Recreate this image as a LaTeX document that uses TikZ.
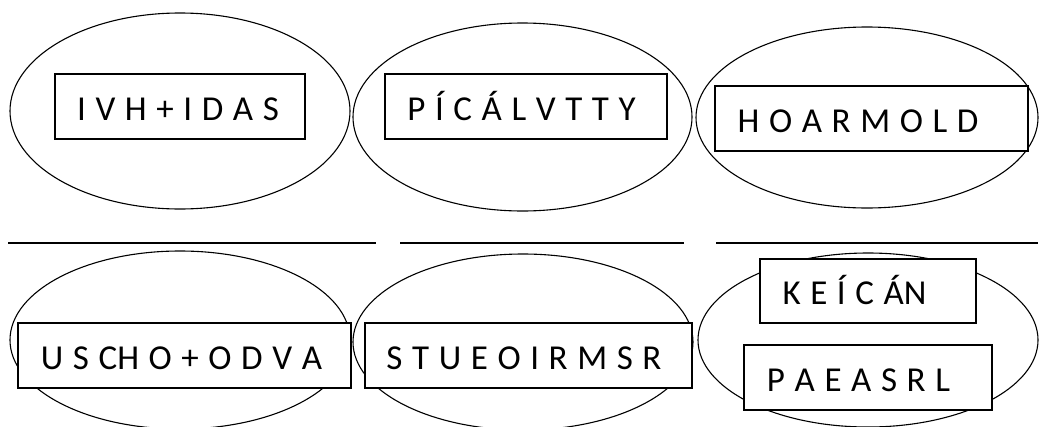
\documentclass[tikz,border=0pt]{standalone}
\usepackage{fontspec}
\setmainfont{Carlito}
\usetikzlibrary{shapes.geometric}
\newcommand{\wordfont}{\fontsize{35}{40}\selectfont\spaceskip=9.6pt plus 0pt minus 0pt\relax}
\tikzset{
  oval/.style={draw, ellipse, line width=1.1pt, inner sep=0pt},
  wordbox/.style={draw, rectangle, fill=white, line width=1.3pt, inner sep=0pt},
  word/.style={inner sep=0pt, text height=22pt, text depth=0pt, font=\wordfont},
  rule/.style={line width=1.3pt}
}
\begin{document}
\begin{tikzpicture}[x=1pt,y=-1pt]
\useasboundingbox (0,0) rectangle (1039,426);
\clip (0,0) rectangle (1039,426);
% ellipses
\node[oval, minimum width=340pt, minimum height=196pt] (e1) at (180,111) {};
\node[oval, minimum width=339pt, minimum height=188pt] (e2) at (522.5,117) {};
\node[oval, minimum width=342pt, minimum height=181pt] (e3) at (867,117.5) {};
\node[oval, minimum width=340pt, minimum height=178pt] (e4) at (180,340) {};
\node[oval, minimum width=340pt, minimum height=176pt] (e5) at (523,342) {};
\node[oval, minimum width=340pt, minimum height=174pt] (e6) at (868,340) {};
% boxes
\node[wordbox, minimum width=250pt, minimum height=65pt] (b1) at (180,106.5) {};
\node[wordbox, minimum width=282pt, minimum height=65pt] (b2) at (526,106.5) {};
\node[wordbox, minimum width=313pt, minimum height=65pt] (b3) at (871.5,118.5) {};
\node[wordbox, minimum width=333pt, minimum height=65pt] (b4) at (184.5,355.5) {};
\node[wordbox, minimum width=327pt, minimum height=65pt] (b5) at (528.5,355.5) {};
\node[wordbox, minimum width=216pt, minimum height=64pt] (b6) at (868,291) {};
\node[wordbox, minimum width=248pt, minimum height=65pt] (b7) at (868,377.5) {};
% texts
\node[word] (t1) at (178,109) {I V H + I D A S};
\node[word] (t2) at (521.5,109) {P Í C Á L V T T Y};
\node[word] (t3) at (858,121) {H O A R M O L D};
\node[word] (t4) at (181.5,358) {U S CH O + O D V A};
\node[word] (t5) at (524,358) {S T U E O I R M S R};
\node[word] (t6) at (854.5,293.5) {K E Í C ÁN};
\node[word] (t7) at (858.5,380.5) {P A E A S R L};
% rules
\coordinate (r1a) at (8,243);   \coordinate (r1b) at (376,243);
\coordinate (r2a) at (400,243); \coordinate (r2b) at (684,243);
\coordinate (r3a) at (716,243); \coordinate (r3b) at (1038,243);
\draw[rule] (r1a) -- (r1b);
\draw[rule] (r2a) -- (r2b);
\draw[rule] (r3a) -- (r3b);
\end{tikzpicture}
\end{document}
